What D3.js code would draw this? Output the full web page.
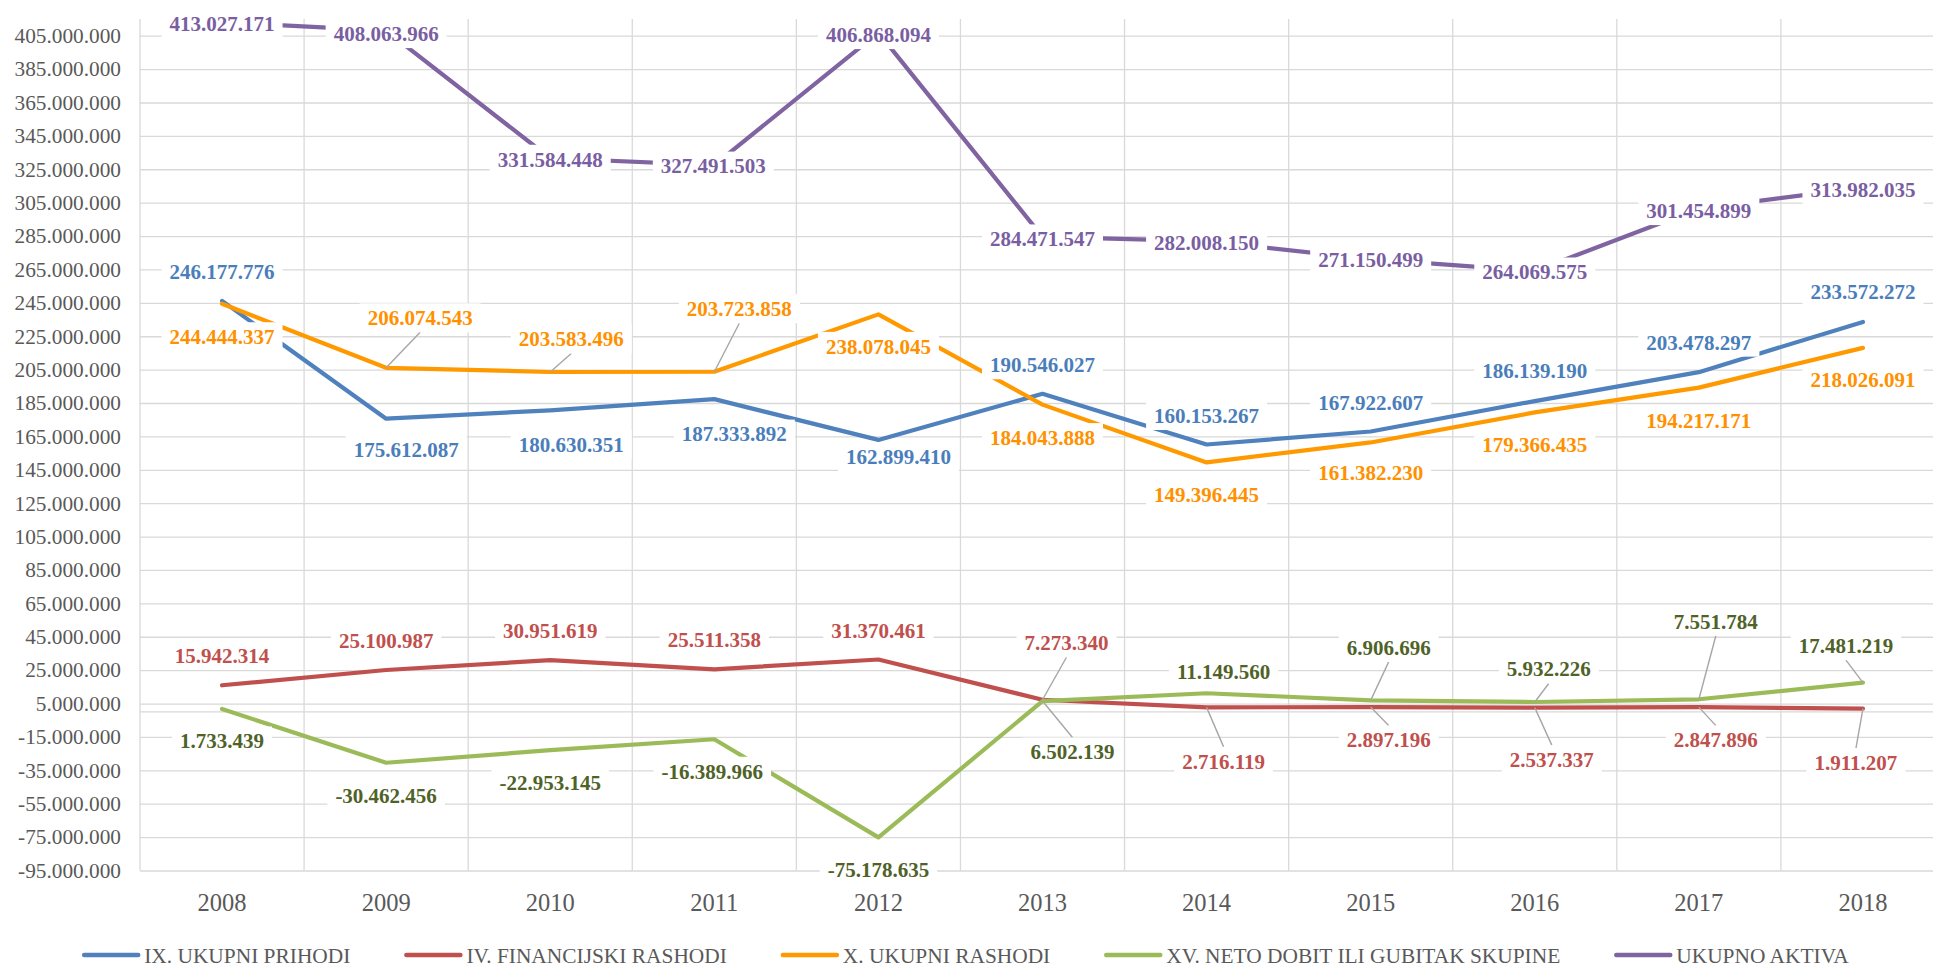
<!DOCTYPE html>
<html>
<head>
<meta charset="utf-8">
<script src="https://cdn.jsdelivr.net/npm/d3@7"></script>
<style>
  body { margin: 0; background: #fff; }
  svg { display: block; font-family: "Times New Roman", "Liberation Serif", serif; }
</style>
</head>
<body>
<svg id="chart" width="1933" height="968"></svg>
<script>
// ---- data ----
var years = ['2008', '2009', '2010', '2011', '2012', '2013', '2014', '2015', '2016', '2017', '2018'];
var prihodi    = [246177776, 175612087, 180630351, 187333892, 162899410, 190546027, 160153267, 167922607, 186139190, 203478297, 233572272];
var finRashodi = [15942314, 25100987, 30951619, 25511358, 31370461, 7273340, 2716119, 2897196, 2537337, 2847896, 1911207];
var rashodi    = [244444337, 206074543, 203583496, 203723858, 238078045, 184043888, 149396445, 161382230, 179366435, 194217171, 218026091];
var netoDobit  = [1733439, -30462456, -22953145, -16389966, -75178635, 6502139, 11149560, 6906696, 5932226, 7551784, 17481219];
var aktiva     = [413027171, 408063966, 331584448, 327491503, 406868094, 284471547, 282008150, 271150499, 264069575, 301454899, 313982035];
var seriesNames = ['IX. UKUPNI PRIHODI', 'IV. FINANCIJSKI RASHODI', 'X. UKUPNI RASHODI', 'XV. NETO DOBIT ILI GUBITAK SKUPINE', 'UKUPNO AKTIVA'];
var yTicks = d3.range(-95000000, 405000001, 20000000);

// ---- label placement (dx, dy from the point, leader line flag) ----
var offBlue   = [[0,-29],[20,31],[21,34],[20,35],[20,17],[0,-29],[0,-29],[0,-29],[0,-30],[0,-30],[0,-30]];
var offRed    = [[0,-30],[0,-29],[0,-30],[0,-30],[0,-29],[24,-57,1],[17,54,1],[18,33,1],[17,52,1],[17,33,1],[-7,54,1]];
var offOrange = [[0,33],[34,-50,1],[21,-33,1],[25,-63,1],[0,32],[0,33],[0,32],[0,30],[0,32],[0,33],[0,32]];
var offGreen  = [[0,32],[0,33],[0,32],[-2,32],[0,32],[30,51,1],[17,-22],[18,-53,1],[14,-33,1],[17,-78,1],[-17,-37,1]];
var offPurple = [[0,1],[0,3],[0,1],[-1,1],[0,2],[0,2],[0,2],[0,0],[0,1],[0,2],[0,2]];

var series = [
  { name: seriesNames[0], values: prihodi,    color: '#4f81bd', text: '#4a7ebb', off: offBlue },
  { name: seriesNames[1], values: finRashodi, color: '#c0504d', text: '#c0504d', off: offRed },
  { name: seriesNames[2], values: rashodi,    color: '#ff9900', text: '#ff9100', off: offOrange },
  { name: seriesNames[3], values: netoDobit,  color: '#9bbb59', text: '#4f6228', off: offGreen },
  { name: seriesNames[4], values: aktiva,     color: '#8064a2', text: '#7a5ea2', off: offPurple }
];

var fmt = d3.formatLocale({ decimal: ',', thousands: '.', grouping: [3], currency: ['', ''], minus: '-' }).format(',d');

var svg = d3.select('#chart');
var plotLeft = 140, plotRight = 1945, plotTop = 19, plotBottom = 870.5;

var x = d3.scaleBand().domain(years).range([plotLeft, plotRight]).padding(0);
var y = d3.scaleLinear().domain([-95000000, 415000000]).range([plotBottom, plotTop]);
var cx = function (d) { return x(d) + x.bandwidth() / 2; };

// ---- grid ----
var grid = svg.append('g');
var yAxis = d3.axisLeft(y).tickValues(yTicks).tickFormat(fmt).tickSize(-(plotRight - plotLeft)).tickPadding(19);
var yg = grid.append('g').attr('transform', 'translate(' + plotLeft + ',0)').call(yAxis);
yg.select('.domain').remove();
yg.selectAll('.tick line').attr('stroke', '#d9d9d9').attr('stroke-width', 1.3);
yg.selectAll('.tick text').attr('fill', '#595959').style('font-size', '21.3px')
  .style('font-family', '"Times New Roman","Liberation Serif",serif');

// zero line
grid.append('line').attr('x1', plotLeft).attr('x2', plotRight).attr('y1', y(0)).attr('y2', y(0))
  .attr('stroke', '#d9d9d9').attr('stroke-width', 1.3);

// vertical category grid lines
var bounds = years.map(function (d) { return x(d); }).concat([plotRight]);
grid.selectAll('.vline').data(bounds).enter().append('line')
  .attr('x1', function (d) { return d; }).attr('x2', function (d) { return d; })
  .attr('y1', plotTop).attr('y2', plotBottom)
  .attr('stroke', '#d9d9d9').attr('stroke-width', 1.3);

// x axis labels
var xAxis = d3.axisBottom(x).tickSize(0).tickPadding(0);
var xg = svg.append('g').attr('transform', 'translate(0,' + plotBottom + ')').call(xAxis);
xg.select('.domain').remove();
xg.selectAll('.tick text').attr('fill', '#595959').attr('y', 40).attr('dy', 0)
  .style('font-size', '24.5px').style('font-family', '"Times New Roman","Liberation Serif",serif');

// ---- lines ----
var line = d3.line().x(function (d, i) { return cx(years[i]); }).y(function (d) { return y(d); });
svg.append('g').selectAll('path').data(series).enter().append('path')
  .attr('d', function (s) { return line(s.values); })
  .attr('fill', 'none')
  .attr('stroke', function (s) { return s.color; })
  .attr('stroke-width', 4.2)
  .attr('stroke-linejoin', 'round')
  .attr('stroke-linecap', 'round');

// ---- data labels ----
var lblLayer = svg.append('g');
var halfH = 14.5;
series.forEach(function (s) {
  s.values.forEach(function (v, i) {
    var px = cx(years[i]), py = y(v);
    var o = s.off[i];
    var lx = px + o[0], ly = py + o[1];
    var g = lblLayer.append('g');
    if (o[2]) {
      var ey = o[1] < 0 ? ly + halfH : ly - halfH;
      g.append('line').attr('x1', lx).attr('y1', ey).attr('x2', px).attr('y2', py)
        .attr('stroke', '#a6a6a6').attr('stroke-width', 1.4);
    }
    var r = g.append('rect').attr('fill', '#fff');
    var t = g.append('text').attr('x', lx).attr('y', ly).attr('dy', '0.35em')
      .attr('text-anchor', 'middle').attr('fill', s.text)
      .style('font-size', '21px').style('font-weight', 'bold')
      .text(fmt(v));
    var w = t.node().getComputedTextLength() + 16;
    r.attr('x', lx - w / 2).attr('y', ly - halfH).attr('width', w).attr('height', halfH * 2);
  });
});

// ---- legend ----
var legend = svg.append('g').attr('transform', 'translate(0,955)');
var items = legend.selectAll('g').data(series).enter().append('g');
items.append('line').attr('x1', 0).attr('x2', 54).attr('y1', 0).attr('y2', 0)
  .attr('stroke', function (s) { return s.color; }).attr('stroke-width', 4.5).attr('stroke-linecap', 'round');
items.append('text').attr('x', 60).attr('dy', '0.35em').attr('fill', '#595959')
  .style('font-size', '21.4px').text(function (s) { return s.name; });
var widths = [];
items.each(function () { widths.push(60 + d3.select(this).select('text').node().getComputedTextLength()); });
var gap = 56;
var total = d3.sum(widths) + gap * (widths.length - 1);
var pos = (1933 - total) / 2;
items.attr('transform', function (d, i) {
  var p = pos; pos += widths[i] + gap; return 'translate(' + p + ',0)';
});
</script>
</body>
</html>
